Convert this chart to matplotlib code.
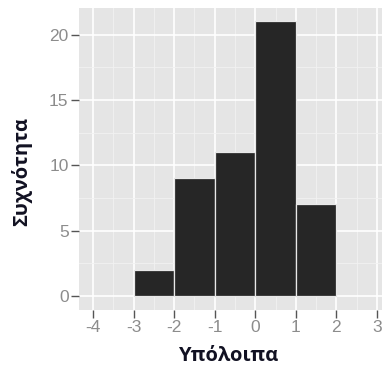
import numpy as np
import matplotlib.pyplot as plt
from matplotlib.ticker import MultipleLocator

# histogram of residuals (bin edges and counts)
bin_left = [-3, -2, -1, 0, 1]
counts = [2, 9, 11, 21, 7]
x_ticks = [-4, -3, -2, -1, 0, 1, 2, 3]
y_ticks = [0, 5, 10, 15, 20]

fig = plt.figure(figsize=(3.82, 3.67), dpi=100)
ax = fig.add_axes([79/382, 57.3/367, 312/382, 302/367])

ax.set_facecolor('#E5E5E5')
for s in ax.spines.values():
    s.set_visible(False)

ax.bar(bin_left, counts, width=1, align='edge', color='#262626',
       edgecolor='#E8E8E8', linewidth=0.9, zorder=3)

ax.set_xlim(-4.35, 3.35)
ax.set_ylim(-1.05, 22.05)
ax.set_xticks(x_ticks)
ax.set_xticklabels([str(v) for v in x_ticks])
ax.set_yticks(y_ticks)
ax.xaxis.set_minor_locator(MultipleLocator(0.5))
ax.yaxis.set_minor_locator(MultipleLocator(2.5))

ax.grid(which='major', color='white', linewidth=1.2, zorder=0)
ax.grid(which='minor', color='#F2F2F2', linewidth=0.6, zorder=0)
ax.set_axisbelow(True)

ax.tick_params(which='major', length=5.5, width=1, color='#555555',
               labelcolor='#8C8C8C', labelsize=12.5, pad=2)
ax.tick_params(which='minor', length=0)
for lab in ax.get_xticklabels() + ax.get_yticklabels():
    lab.set_family('Liberation Sans')

ax.set_xlabel('Υπόλοιπα', fontsize=14.5, fontweight='bold',
              family='Open Sans', color='#111122')
ax.set_ylabel('Συχνότητα', fontsize=14.5, fontweight='bold',
              family='Open Sans', color='#111122')
ax.xaxis.set_label_coords(0.478, -0.12)
ax.yaxis.set_label_coords(-0.15, 0.456)

fig.savefig('out.png', dpi=100)
